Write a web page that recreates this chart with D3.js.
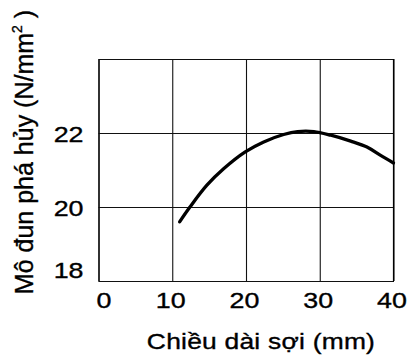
<!DOCTYPE html>
<html>
<head>
<meta charset="utf-8">
<script src="https://cdn.jsdelivr.net/npm/d3@7"></script>
<style>
  html, body { margin: 0; padding: 0; background: #fff; }
  svg { display: block; }
  text { font-family: "Liberation Sans", Arial, sans-serif; fill: #000; stroke: #000; stroke-width: 0.35px; }
</style>
</head>
<body>
<script>
// ---- data ----
const fiberLength = [11, 12.4, 14.7, 17, 19.9, 22.4, 25.1, 27, 29.2, 31.5, 34.2, 36.4, 38.2, 40];
const modulus     = [19.6, 20.0, 20.59, 21.04, 21.49, 21.76, 21.96, 22.04, 22.04, 21.94, 21.78, 21.62, 21.4, 21.19];
const xTicks = [0, 10, 20, 30, 40];
const yTicks = [18, 20, 22, 24];
const yTickLabels = ["18", "20", "22", ""];
const xTitle = "Chiều dài sợi (mm)";
const yTitleMain = "Mô đun phá hủy (N/mm";
const yTitleSup = "2";
const yTitleEnd = " )";

const W = 408, H = 360;
const svg = d3.select("body").append("svg").attr("width", W).attr("height", H);

const x = d3.scaleLinear().domain([0, 40]).range([98.5, 393.5]);
const y = d3.scaleLinear().domain([18, 24]).range([281, 59]);
const SX = 1.22;

// vertical grid + x axis
const xAxis = d3.axisBottom(x).tickValues(xTicks).tickSize(-(y(18) - y(24))).tickSizeOuter(0).tickFormat(d3.format("d"));
const gx = svg.append("g").attr("transform", `translate(0,${y(18)})`).call(xAxis);
gx.select(".domain").attr("stroke", "#000").attr("stroke-width", 1.2);
gx.selectAll(".tick line").attr("stroke", "#111").attr("stroke-width", 1.1);
gx.selectAll(".tick text")
  .attr("y", 0).attr("dy", 0)
  .attr("transform", d => `translate(${d === 0 ? 5 : -2},27) scale(${SX},1)`)
  .style("font-size", "22px").attr("fill", "#000");

// horizontal grid + y axis
const yAxis = d3.axisLeft(y).tickValues(yTicks).tickSize(-(x(40) - x(0))).tickSizeOuter(0)
  .tickFormat((d, i) => yTickLabels[i]);
const gy = svg.append("g").attr("transform", `translate(${x(0)},0)`).call(yAxis);
gy.select(".domain").attr("stroke", "#000").attr("stroke-width", 1.2);
gy.selectAll(".tick line").attr("stroke", "#111").attr("stroke-width", 1.1);
gy.selectAll(".tick text")
  .attr("x", 0).attr("dy", 0)
  .attr("transform", d => `translate(-15,${d === 18 ? -4 : 8.5}) scale(${SX},1)`)
  .style("font-size", "22px").attr("fill", "#000");

// right border
svg.append("line").attr("x1", x(40)).attr("x2", x(40)).attr("y1", y(24)).attr("y2", y(18))
  .attr("stroke", "#000").attr("stroke-width", 1.2);

// curve
const pts = fiberLength.map((d, i) => [d, modulus[i]]);
svg.append("path")
  .attr("d", d3.line().x(d => x(d[0])).y(d => y(d[1])).curve(d3.curveCatmullRom)(pts))
  .attr("fill", "none").attr("stroke", "#000").attr("stroke-width", 3.3)
  .attr("stroke-linecap", "round").attr("stroke-linejoin", "round");

// x title
svg.append("text")
  .attr("transform", `translate(261,349) scale(1.2,1)`)
  .attr("text-anchor", "middle")
  .style("font-size", "22px").style("letter-spacing", "0.2px")
  .text(xTitle);

// y title
const yt = svg.append("text")
  .attr("transform", `translate(33,152) rotate(-90)`)
  .attr("text-anchor", "middle")
  .style("font-size", "25px");
yt.append("tspan").text(yTitleMain);
yt.append("tspan").attr("dy", -11).style("font-size", "14px").text(yTitleSup);
yt.append("tspan").attr("dy", 11).text(yTitleEnd);
</script>
</body>
</html>
